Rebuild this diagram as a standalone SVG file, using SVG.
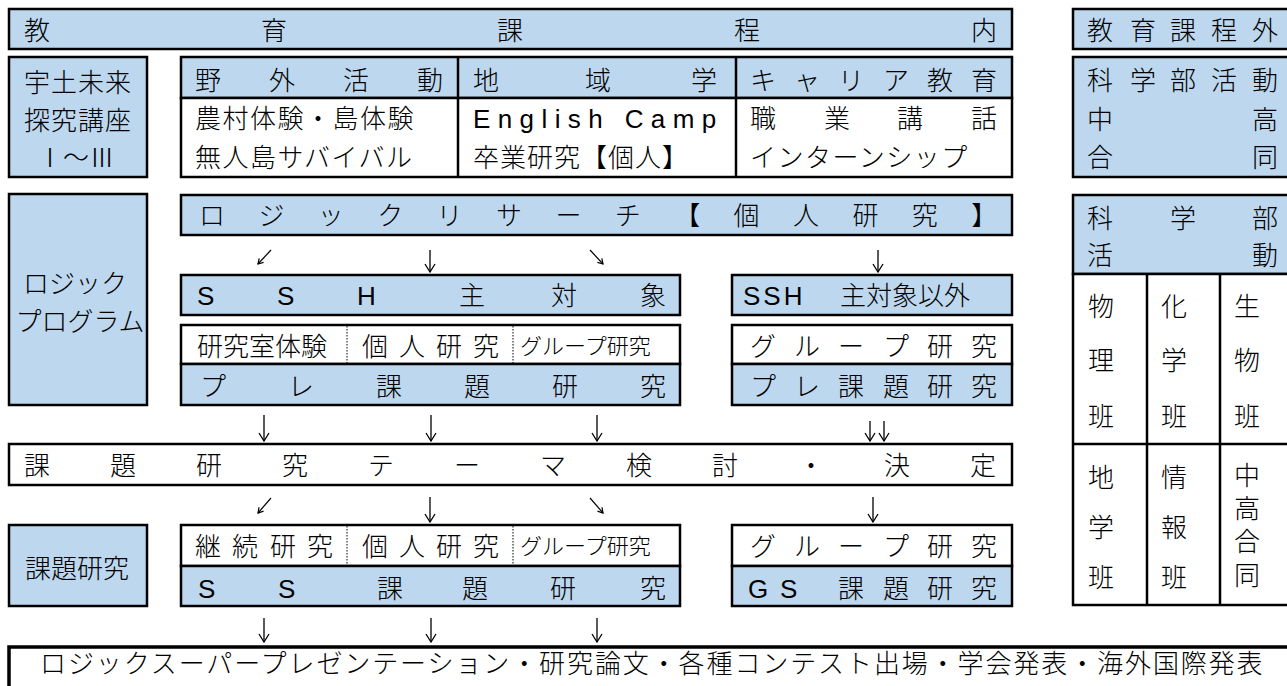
<svg xmlns="http://www.w3.org/2000/svg" width="1287" height="686" viewBox="0 0 1287 686">
<style>
.b{fill:#BDD7EE;stroke:#000;stroke-width:2.5}
.w{fill:#fff;stroke:#000;stroke-width:2.5}
.ln{stroke:#000;stroke-width:2.5;fill:none}
.dot{stroke:#000;stroke-width:1;stroke-dasharray:1.5 1.5;fill:none}
.t{font-family:'Liberation Sans','Noto Sans CJK JP',sans-serif;font-size:26px;font-weight:300;fill:#000}
.la{font-family:'Liberation Sans',sans-serif;font-weight:400}
.m{text-anchor:middle}
.s{font-size:22px}
.arr{stroke:#000;stroke-width:1.3;fill:none;marker-end:url(#ah)}
.ars{stroke:#000;stroke-width:1.2;fill:none;marker-end:url(#ahs)}
</style>
<defs>
<marker id="ah" markerUnits="userSpaceOnUse" markerWidth="10" markerHeight="12" viewBox="0 0 10 12" refX="9" refY="6" orient="auto"><path d="M1,1 L9,6 L1,11" fill="none" stroke="#000" stroke-width="1.3"/></marker>
<marker id="ahs" markerUnits="userSpaceOnUse" markerWidth="7" markerHeight="8" viewBox="0 0 7 8" refX="6" refY="4" orient="auto"><path d="M1,1 L6,4 L1,7" fill="none" stroke="#000" stroke-width="1.2"/></marker>
</defs>
<rect width="1287" height="686" fill="#fff"/>

<g id="curriculum-in">
<rect class="b" x="9" y="9" width="1003" height="40"/>
<text class="t" x="24 261 497 734 971" y="40">教育課程内</text>
</g>

<g id="curriculum-out">
<rect class="b" x="1073" y="9" width="240" height="40"/>
<text class="t" x="1087 1130 1170 1211 1252" y="40">教育課程外</text>
</g>

<g id="uto-mirai">
<rect class="b" x="9" y="57" width="138" height="120"/>
<text class="t m" x="78" y="92" letter-spacing="1">宇土未来</text>
<text class="t m" x="78" y="130" letter-spacing="1">探究講座</text>
<text class="t m" x="76" y="167">Ⅰ～Ⅲ</text>
</g>

<g id="activities">
<rect class="b" x="181" y="57" width="831" height="41"/>
<rect class="w" x="181" y="98" width="831" height="79"/>
<line class="ln" x1="458" y1="57" x2="458" y2="177"/>
<line class="ln" x1="736" y1="57" x2="736" y2="177"/>
<text class="t" x="195 269 343 417" y="90">野外活動</text>
<text class="t" x="473 585 691" y="90">地域学</text>
<text class="t" x="750 794 838 883 927 971" y="90">キャリア教育</text>
<text class="t" x="195" y="128" letter-spacing="1.5">農村体験・島体験</text>
<text class="t" x="195" y="167" letter-spacing="1.5">無人島サバイバル</text>
<text class="t la" x="473" y="128" font-size="24" letter-spacing="7.4">English Camp</text>
<text class="t" x="473" y="167" letter-spacing="1">卒業研究【個人】</text>
<text class="t" x="750 824 897 971" y="128">職業講話</text>
<text class="t" x="750" y="167" letter-spacing="1.5">インターンシップ</text>
</g>

<g id="science-club-top">
<rect class="b" x="1073" y="57" width="240" height="120"/>
<text class="t" x="1087 1130 1170 1211 1252" y="90">科学部活動</text>
<text class="t" x="1087" y="129">中</text>
<text class="t" x="1252" y="129">高</text>
<text class="t" x="1087" y="167">合</text>
<text class="t" x="1252" y="167">同</text>
</g>

<g id="logic-program">
<rect class="b" x="9" y="194" width="138" height="211"/>
<text class="t m" x="75" y="293">ロジック</text>
<text class="t m" x="80" y="331">プログラム</text>
</g>

<g id="logic-research">
<rect class="b" x="181" y="195" width="831" height="40"/>
<text class="t" x="199 258.4 317.8 377.2 436.6 496 555.4 614.8 674.2 733.6 793 852.4 911.8 971.2" y="225">ロジックリサーチ【個人研究】</text>
</g>

<g id="ssh-main">
<rect class="b" x="181" y="275" width="499" height="40"/>
<text class="t" x="197 277 357 459 551 640" y="305"><tspan class="la">SSH</tspan>主対象</text>
</g>

<g id="ssh-other">
<rect class="b" x="732" y="275" width="280" height="40"/>
<text class="t" y="305"><tspan class="la" x="743" letter-spacing="3">SSH</tspan><tspan x="840">主対象以外</tspan></text>
</g>

<g id="pre-research-ssh">
<rect class="w" x="181" y="325" width="499" height="39"/>
<rect class="b" x="181" y="364" width="499" height="41"/>
<line class="dot" x1="347" y1="326" x2="347" y2="363"/>
<line class="dot" x1="513" y1="326" x2="513" y2="363"/>
<text class="t" x="197" y="356" font-size="25">研究室体験</text>
<text class="t" x="362 399 436 473" y="356">個人研究</text>
<text class="t s" x="520" y="354">グループ研究</text>
<text class="t" x="200 288 376 464 552 640" y="396">プレ課題研究</text>
</g>

<g id="pre-research-other">
<rect class="w" x="732" y="325" width="280" height="39"/>
<rect class="b" x="732" y="364" width="280" height="41"/>
<text class="t" x="750 794 838 883 927 971" y="356">グループ研究</text>
<text class="t" x="750 794 838 883 927 971" y="396">プレ課題研究</text>
</g>

<g id="theme-decision">
<rect class="w" x="9" y="444" width="1003" height="41"/>
<text class="t" x="24 110 196 282 368 454 540 626 712 798 884 970" y="475">課題研究テーマ検討・決定</text>
</g>

<g id="kadai-label">
<rect class="b" x="9" y="525" width="138" height="81"/>
<text class="t m" x="77" y="578">課題研究</text>
</g>

<g id="ss-research">
<rect class="w" x="181" y="525" width="499" height="41"/>
<rect class="b" x="181" y="566" width="499" height="40"/>
<line class="dot" x1="347" y1="526" x2="347" y2="565"/>
<line class="dot" x1="513" y1="526" x2="513" y2="565"/>
<text class="t" x="195 232 270 307" y="556">継続研究</text>
<text class="t" x="362 399 436 473" y="556">個人研究</text>
<text class="t s" x="520" y="554">グループ研究</text>
<text class="t" x="198 278 377 462 550 640" y="598"><tspan class="la">SS</tspan>課題研究</text>
</g>

<g id="gs-research">
<rect class="w" x="732" y="525" width="280" height="41"/>
<rect class="b" x="732" y="566" width="280" height="40"/>
<text class="t" x="750 794 838 883 927 971" y="556">グループ研究</text>
<text class="t" x="748 780 838 883 927 971" y="598"><tspan class="la">GS</tspan>課題研究</text>
</g>

<g id="science-club-groups">
<rect class="b" x="1073" y="195" width="240" height="79"/>
<rect class="w" x="1073" y="274" width="240" height="331"/>
<line class="ln" x1="1073" y1="444" x2="1300" y2="444"/>
<line class="ln" x1="1147" y1="274" x2="1147" y2="605"/>
<line class="ln" x1="1220" y1="274" x2="1220" y2="605"/>
<text class="t" x="1087 1170 1252" y="228">科学部</text>
<text class="t" x="1087 1252" y="265">活動</text>
<text class="t" x="1088 1161 1234" y="316">物化生</text>
<text class="t" x="1088 1161 1234" y="370">理学物</text>
<text class="t" x="1088 1161 1234" y="426">班班班</text>
<text class="t" x="1088 1161" y="487">地情</text>
<text class="t" x="1088 1161" y="537">学報</text>
<text class="t" x="1088 1161" y="587">班班</text>
<text class="t" x="1234" y="485">中</text>
<text class="t" x="1234" y="518">高</text>
<text class="t" x="1234" y="551">合</text>
<text class="t" x="1234" y="585">同</text>
</g>

<g id="presentation">
<rect x="9" y="647" width="1300" height="60" fill="#fff" stroke="#000" stroke-width="3.5"/>
<text class="t" x="40" y="673" letter-spacing="1.9">ロジックスーパープレゼンテーション・研究論文・各種コンテスト出場・学会発表・海外国際発表</text>
</g>

<g id="connectors">
<path class="ars" d="M271,250 L258,264"/>
<path class="arr" d="M430,250 L430,272"/>
<path class="ars" d="M590,250 L603,264"/>
<path class="arr" d="M878,250 L878,272"/>
<path class="arr" d="M264,415 L264,441"/>
<path class="arr" d="M431,415 L431,441"/>
<path class="arr" d="M597,415 L597,441"/>
<path class="arr" d="M870,421 L870,441"/>
<path class="arr" d="M884,421 L884,441"/>
<path class="ars" d="M271,498 L258,513"/>
<path class="arr" d="M430,497 L430,522"/>
<path class="ars" d="M590,498 L603,513"/>
<path class="arr" d="M873,497 L873,522"/>
<path class="arr" d="M264,618 L264,642"/>
<path class="arr" d="M431,618 L431,642"/>
<path class="arr" d="M597,618 L597,642"/>
</g>
</svg>
